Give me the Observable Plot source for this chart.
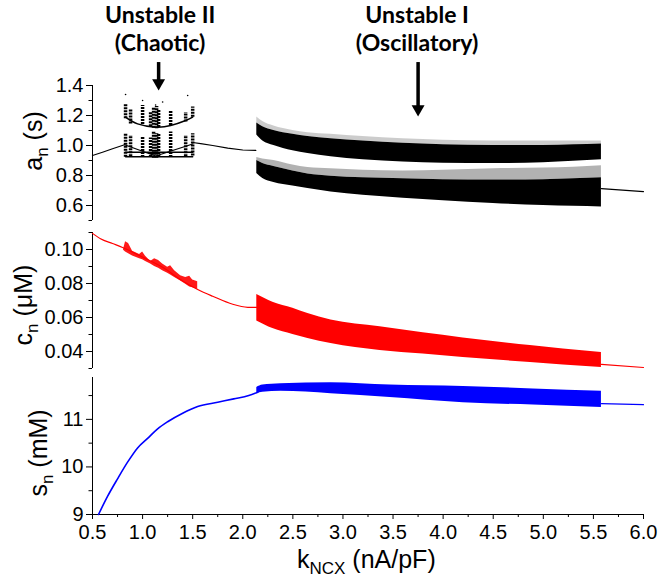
<!DOCTYPE html>
<html><head><meta charset="utf-8">
<script src="https://cdn.jsdelivr.net/npm/d3@7"></script>
<script src="https://cdn.jsdelivr.net/npm/@observablehq/plot@0.6"></script>
<style>
body{margin:0;background:#fff;}
#wrap{position:relative;width:659px;height:582px;overflow:hidden;background:#fff;font-family:"Liberation Sans",Arial,sans-serif;}
#wrap > svg{position:absolute;left:0;}
</style></head><body><div id="wrap"></div>
<script>
// ---------- shared x axis ----------
const xTicks = [0.5, 1.0, 1.5, 2.0, 2.5, 3.0, 3.5, 4.0, 4.5, 5.0, 5.5, 6.0];
const xMinor = [0.75, 1.25, 1.75, 2.25, 2.75, 3.25, 3.75, 4.25, 4.75, 5.25, 5.75];

// ---------- panel a_n (s) ----------
const aTicks = [0.6, 0.8, 1.0, 1.2, 1.4];
const aMinor = [0.5, 0.7, 0.9, 1.1, 1.3];
const aLeftK = [0.5, 0.6, 0.7, 0.82];
const aLeft = [0.933, 0.955, 0.978, 1.005];
const aMidK = [1.5, 1.58, 1.7, 1.85, 2.0, 2.13];
const aMid = [1.02, 1.013, 1.0, 0.982, 0.97, 0.967];
const aRightK = [5.58, 6.0];
const aRight = [0.713, 0.693];
// chaotic region (Unstable II): vertical point clusters
const chaosK = [0.83, 0.88, 1.0, 1.08, 1.11, 1.14, 1.16, 1.28, 1.43, 1.5];
const chaosUpHi = [1.278, 1.244, 1.267, 1.22, 1.25, 1.26, 1.233, 1.233, 1.22, 1.256];
const chaosUpLo = [1.178, 1.144, 1.14, 1.125, 1.115, 1.112, 1.12, 1.133, 1.156, 1.189];
const chaosLoHi = [1.078, 1.067, 1.056, 1.05, 1.09, 1.08, 1.078, 1.09, 1.067, 1.078];
const chaosLoLo = [0.922, 0.925, 0.92, 0.92, 0.915, 0.915, 0.92, 0.92, 0.925, 0.93];
const bowlK = [0.83, 0.95, 1.13, 1.28, 1.43, 1.5];
const bowlA = [1.189, 1.144, 1.122, 1.133, 1.167, 1.189];
const chaosVK = [0.82, 1.13, 1.5];
const chaosV = [1.005, 0.93, 1.01];
const chaosFlatK = [0.83, 1.5];
const chaosFlat1 = [0.955, 0.955];
const chaosFlat2 = [0.925, 0.925];
const chaosDotK = [0.83, 1.0, 1.13, 1.2, 1.45];
const chaosDotA = [1.34, 1.3, 1.27, 1.29, 1.333];
// oscillatory region (Unstable I)
const oscAK = [2.14, 2.2, 2.31, 2.5, 2.65, 2.88, 3.2, 3.6, 4.0, 4.5, 5.0, 5.3, 5.58];
const upFringe = [1.19, 1.16, 1.13, 1.1, 1.085, 1.075, 1.06, 1.045, 1.035, 1.03, 1.03, 1.03, 1.03];
const upTop = [1.15, 1.125, 1.1, 1.075, 1.06, 1.045, 1.03, 1.015, 1.005, 1.0, 1.0, 1.005, 1.01];
const upBot = [1.07, 1.03, 1.0, 0.965, 0.947, 0.925, 0.905, 0.89, 0.882, 0.88, 0.885, 0.895, 0.905];
const loTop = [0.92, 0.91, 0.9, 0.87, 0.853, 0.845, 0.835, 0.83, 0.835, 0.845, 0.85, 0.855, 0.865];
const loDense = [0.9, 0.88, 0.86, 0.83, 0.81, 0.795, 0.785, 0.778, 0.772, 0.77, 0.772, 0.778, 0.785];
const loBot = [0.813, 0.78, 0.753, 0.73, 0.713, 0.69, 0.668, 0.648, 0.632, 0.613, 0.6, 0.595, 0.59];

// ---------- panel c_n (µM) ----------
const cTicks = [0.04, 0.06, 0.08, 0.10];
const cMinor = [0.03, 0.05, 0.07, 0.09, 0.11];
const cLineK = [0.5, 0.58, 0.7, 0.8, 1.0, 1.2, 1.4, 1.55, 1.7, 1.9, 2.05, 2.14];
const cLine = [0.1095, 0.1063, 0.1035, 0.1012, 0.0955, 0.0895, 0.0815, 0.0765, 0.0725, 0.0678, 0.066, 0.0659];
const cChaosK = [0.81, 0.83, 0.86, 0.9, 0.97, 1.0, 1.03, 1.08, 1.12, 1.16, 1.2, 1.25, 1.28, 1.32, 1.38, 1.43, 1.47, 1.5, 1.55];
const cChaosTop = [0.1, 0.1045, 0.1035, 0.099, 0.097, 0.0985, 0.096, 0.093, 0.0945, 0.0935, 0.0915, 0.0895, 0.0905, 0.0875, 0.0845, 0.0835, 0.0842, 0.082, 0.081];
const cChaosBot = [0.0995, 0.0985, 0.0975, 0.0962, 0.0945, 0.094, 0.093, 0.0915, 0.09, 0.089, 0.0875, 0.086, 0.085, 0.0835, 0.0815, 0.0795, 0.078, 0.0775, 0.0765];
const cOscK = [2.14, 2.3, 2.5, 2.65, 2.88, 3.37, 3.8, 4.2, 4.87, 5.2, 5.58];
const cOscTop = [0.0735, 0.069, 0.0655, 0.0623, 0.0585, 0.0545, 0.051, 0.048, 0.0435, 0.0415, 0.0394];
const cOscBot = [0.058, 0.0535, 0.05, 0.0476, 0.0447, 0.0406, 0.0385, 0.0365, 0.0335, 0.032, 0.0306];
const cRightK = [5.58, 6.0];
const cRight = [0.0324, 0.0306];

// ---------- panel s_n (mM) ----------
const sTicks = [9, 10, 11];
const sMinor = [9.5, 10.5, 11.5];
const sLineK = [0.56, 0.65, 0.75, 0.85, 0.95, 1.05, 1.15, 1.25, 1.4, 1.55, 1.75, 1.91, 2.06, 2.15];
const sLine = [9.0, 9.38, 9.75, 10.1, 10.4, 10.6, 10.8, 10.95, 11.13, 11.27, 11.36, 11.43, 11.5, 11.57];
const sOscK = [2.14, 2.2, 2.38, 2.88, 3.47, 4.2, 4.9, 5.58];
const sOscTop = [11.67, 11.72, 11.75, 11.77, 11.72, 11.69, 11.64, 11.59];
const sOscBot = [11.54, 11.57, 11.59, 11.54, 11.46, 11.35, 11.3, 11.25];
const sRightK = [5.58, 6.0];
const sRight = [11.33, 11.31];

// ---------- helpers ----------
const rows = (k, cols) => k.map((x, i) => { const o = {k: x}; for (const [n, a] of Object.entries(cols)) o[n] = a[i]; return o; });
const W = 659, ML = 92, MR = 16;
const FONT = "Liberation Sans, Arial, sans-serif";
const baseStyle = {fontFamily: FONT, fontSize: "20px", color: "#000", background: "transparent", overflow: "visible"};
const fmt1 = d3.format(".1f"), fmt2 = d3.format(".2f"), fmt0 = d3.format("d");
const wrap = document.getElementById("wrap");
function place(svg, top) { svg.style.position = "absolute"; svg.style.top = top + "px"; svg.style.left = "0px"; wrap.appendChild(svg); }
const yAxes = (ticks, minor, f) => [
  Plot.axisY({ticks, tickFormat: f, tickSize: 6, tickPadding: 3, label: null, fontSize: 20, fontFamily: FONT}),
  Plot.axisY({ticks: minor, tickFormat: () => "", tickSize: 3.5, label: null}),
  Plot.ruleX([0.5])
];
const ann = {fontFamily: "Lato", fontWeight: "bold", fontSize: 23, fill: "#000"};

// ---------- panel 1 ----------
const p1 = Plot.plot({
  width: W, height: 230, marginLeft: ML, marginRight: MR, marginTop: 85, marginBottom: 10,
  style: baseStyle,
  x: {domain: [0.5, 6.0], axis: null},
  y: {domain: [0.5, 1.4], axis: null},
  marks: [
    ...yAxes(aTicks, aMinor, fmt1),
    Plot.line(rows(aLeftK, {a: aLeft}), {x: "k", y: "a", stroke: "#000", strokeWidth: 1.2}),
    Plot.line(rows(aMidK, {a: aMid}), {x: "k", y: "a", stroke: "#000", strokeWidth: 1.2}),
    Plot.line(rows(aRightK, {a: aRight}), {x: "k", y: "a", stroke: "#000", strokeWidth: 1.2}),
    Plot.ruleX(rows(chaosK, {hi: chaosUpHi, lo: chaosUpLo}), {x: "k", y1: "lo", y2: "hi", stroke: "#000", strokeWidth: 3.5, strokeDasharray: "2,1"}),
    Plot.ruleX(rows(chaosK, {hi: chaosLoHi, lo: chaosLoLo}), {x: "k", y1: "lo", y2: "hi", stroke: "#000", strokeWidth: 3.5, strokeDasharray: "2,1"}),
    Plot.line(rows(bowlK, {a: bowlA}), {x: "k", y: "a", curve: "natural", stroke: "#000", strokeWidth: 1.5}),
    Plot.line(rows(chaosVK, {a: chaosV}), {x: "k", y: "a", stroke: "#000", strokeWidth: 1.3}),
    Plot.line(rows(chaosFlatK, {a: chaosFlat1}), {x: "k", y: "a", stroke: "#000", strokeWidth: 1.5}),
    Plot.line(rows(chaosFlatK, {a: chaosFlat2}), {x: "k", y: "a", stroke: "#000", strokeWidth: 1.5}),
    Plot.dot(rows(chaosDotK, {a: chaosDotA}), {x: "k", y: "a", r: 0.8, fill: "#000"}),
    Plot.areaY(rows(oscAK, {t: upFringe, b: upTop}), {x: "k", y1: "b", y2: "t", curve: "monotone-x", fill: "#000", fillOpacity: 0.2}),
    Plot.areaY(rows(oscAK, {t: upTop, b: upBot}), {x: "k", y1: "b", y2: "t", curve: "monotone-x", fill: "#000"}),
    Plot.areaY(rows(oscAK, {t: loTop, b: loDense}), {x: "k", y1: "b", y2: "t", curve: "monotone-x", fill: "#000", fillOpacity: 0.3}),
    Plot.areaY(rows(oscAK, {t: loDense, b: loBot}), {x: "k", y1: "b", y2: "t", curve: "monotone-x", fill: "#000"}),
    // annotations
    Plot.text(["Unstable II"], {x: 1.175, y: 1.867, ...ann}),
    Plot.text(["(Chaotic)"], {x: 1.175, y: 1.68, ...ann}),
    Plot.text(["Unstable I"], {x: 3.74, y: 1.867, ...ann}),
    Plot.text(["(Oscillatory)"], {x: 3.74, y: 1.68, ...ann}),
    Plot.ruleX([1.16], {y1: 1.553, y2: 1.42, stroke: "#000", strokeWidth: 3.5}),
    Plot.dot([1.16], {x: d => d, y: 1.417, symbol: "triangle", rotate: 180, r: 4.8, fill: "#000", stroke: null}),
    Plot.ruleX([3.75], {y1: 1.553, y2: 1.25, stroke: "#000", strokeWidth: 3.5}),
    Plot.dot([3.75], {x: d => d, y: 1.243, symbol: "triangle", rotate: 180, r: 4.8, fill: "#000", stroke: null})
  ]
});
place(p1, 0);

// ---------- panel 2 ----------
const p2 = Plot.plot({
  width: W, height: 148, marginLeft: ML, marginRight: MR, marginTop: 7, marginBottom: 5,
  style: baseStyle,
  x: {domain: [0.5, 6.0], axis: null},
  y: {domain: [0.03, 0.11], axis: null},
  marks: [
    ...yAxes(cTicks, cMinor, fmt2),
    Plot.line(rows(cLineK, {c: cLine}), {x: "k", y: "c", curve: "monotone-x", stroke: "#ff0000", strokeWidth: 1.2}),
    Plot.areaY(rows(cChaosK, {t: cChaosTop, b: cChaosBot}), {x: "k", y1: "b", y2: "t", fill: "#ff0000", fillOpacity: 0.9}),
    Plot.areaY(rows(cOscK, {t: cOscTop, b: cOscBot}), {x: "k", y1: "b", y2: "t", curve: "monotone-x", fill: "#ff0000"}),
    Plot.line(rows(cRightK, {c: cRight}), {x: "k", y: "c", stroke: "#ff0000", strokeWidth: 1.2})
  ]
});
place(p2, 225);

// ---------- panel 3 ----------
const p3 = Plot.plot({
  width: W, height: 212, marginLeft: ML, marginRight: MR, marginTop: 7, marginBottom: 68,
  style: baseStyle,
  x: {domain: [0.5, 6.0], axis: null},
  y: {domain: [9, 11.88], axis: null},
  marks: [
    ...yAxes(sTicks, sMinor, fmt0),
    Plot.axisX({ticks: xTicks, tickFormat: fmt1, tickSize: 5, tickPadding: 5, label: null, fontSize: 20, fontFamily: FONT}),
    Plot.axisX({ticks: xMinor, tickFormat: () => "", tickSize: 3, label: null}),
    Plot.ruleY([9]),
    Plot.line(rows(sLineK, {s: sLine}), {x: "k", y: "s", curve: "monotone-x", stroke: "#0000ff", strokeWidth: 1.6}),
    Plot.areaY(rows(sOscK, {t: sOscTop, b: sOscBot}), {x: "k", y1: "b", y2: "t", curve: "monotone-x", fill: "#0000ff"}),
    Plot.line(rows(sRightK, {s: sRight}), {x: "k", y: "s", stroke: "#0000ff", strokeWidth: 1.2})
  ]
});
place(p3, 370);

// ---------- axis titles (text with subscripts) ----------
const ov = d3.create("svg").attr("width", W).attr("height", 582)
  .style("position", "absolute").style("left", "0px").style("top", "0px")
  .style("font-family", FONT).style("overflow", "visible");
function yLabel(x, y, main, sub, rest) {
  const t = ov.append("text").attr("transform", `translate(${x},${y}) rotate(-90)`)
    .attr("text-anchor", "middle").attr("font-size", 25).attr("fill", "#000");
  t.append("tspan").text(main);
  t.append("tspan").attr("dy", 6).attr("font-size", 17).text(sub);
  t.append("tspan").attr("dy", -6).text(rest);
}
yLabel(42, 141, "a", "n", " (s)");
yLabel(32, 305, "c", "n", " (\u03BCM)");
yLabel(47, 453, "s", "n", " (mM)");
const xl = ov.append("text").attr("x", 297).attr("y", 568).attr("font-size", 25).attr("fill", "#000");
xl.append("tspan").text("k");
xl.append("tspan").attr("dy", 6).attr("font-size", 17).text("NCX");
xl.append("tspan").attr("dy", -6).text(" (nA/pF)");
wrap.appendChild(ov.node());
</script>
</body></html>
